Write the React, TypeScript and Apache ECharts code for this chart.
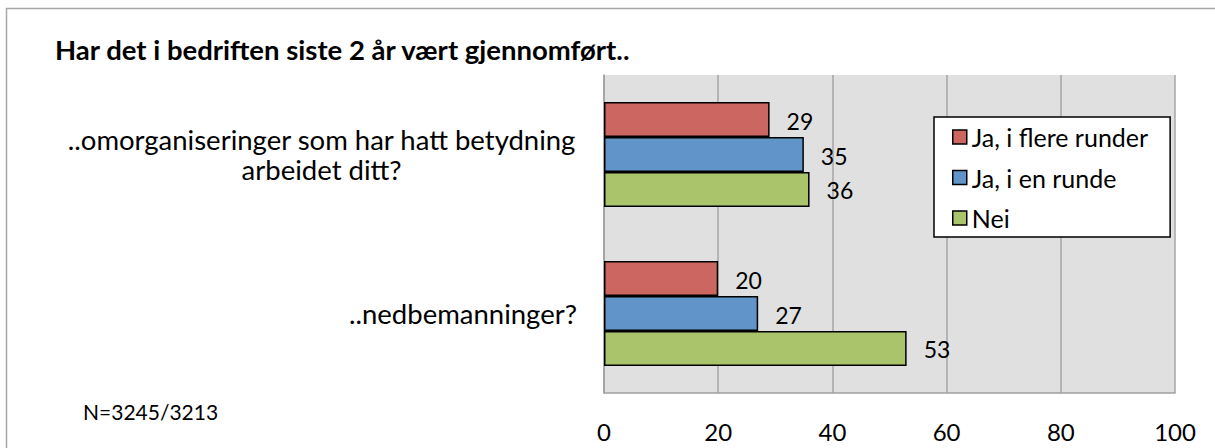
import React, { useEffect, useRef } from "react";
import * as echarts from "echarts";

const categories = [
  "..omorganiseringer som har hatt betydning\narbeidet ditt?",
  "..nedbemanninger?",
];
const seriesNames = ["Ja, i flere runder", "Ja, i en runde", "Nei"];
const flereRunder = [29, 20];
const enRunde = [35, 27];
const nei = [36, 53];
const xTicks = [0, 20, 40, 60, 80, 100];
const titleText = "Har det i bedriften siste 2 år vært gjennomført..";
const noteText = "N=3245/3213";

const FONT = "Lato";
const colors = ["#CC6660", "#6195C9", "#AAC46C"];

function measure(text: string, size: number): number {
  const c = document.createElement("canvas").getContext("2d");
  if (!c) return text.length * size * 0.5;
  c.font = `${size}px ${FONT}`;
  return c.measureText(text).width;
}

export default function App() {
  const ref = useRef<HTMLDivElement>(null);
  useEffect(() => {
    if (!ref.current) return;
    const chart = echarts.init(ref.current, undefined, { renderer: "svg" });
    const catSize = 27.5;
    const lines = categories[0].split("\n");
    const blockW = Math.max(...lines.map((l) => measure(l, catSize))) + 2;
    const values = [flereRunder, enRunde, nei];
    chart.setOption({
      animation: false,
      backgroundColor: "#ffffff",
      textStyle: { fontFamily: FONT, color: "#000" },
      title: {
        text: titleText,
        left: 50,
        top: 30,
        textStyle: { fontFamily: FONT, fontWeight: "bold", fontSize: 27.5, color: "#000" },
      },
      graphic: [
        {
          type: "rect",
          shape: { x: 6.5, y: 8.5, width: 1400, height: 800 },
          style: { fill: "none", stroke: "#a6a6a6", lineWidth: 1.5 },
          silent: true,
          z: -1,
        },
        {
          type: "text",
          left: 83,
          top: 401,
          style: { text: noteText, font: `21px ${FONT}`, fill: "#000" },
        },
      ],
      legend: {
        orient: "vertical",
        left: 934,
        top: 117,
        data: seriesNames,
        backgroundColor: "#fff",
        borderColor: "#000",
        borderWidth: 1.5,
        padding: [7, 22, 6, 18],
        itemWidth: 14,
        itemHeight: 14,
        itemGap: 14.5,
        icon: "rect",
        textStyle: { fontFamily: FONT, fontSize: 25, color: "#000", padding: [0, 0, 0, 0], lineHeight: 26 },
        itemStyle: { borderColor: "#000", borderWidth: 1.5 },
      },
      grid: {
        left: 604,
        right: 40,
        top: 75,
        bottom: 55,
        show: true,
        backgroundColor: "#e0e0e0",
        borderWidth: 0,
        containLabel: false,
      },
      xAxis: {
        type: "value",
        min: xTicks[0],
        max: xTicks[xTicks.length - 1],
        interval: 20,
        axisLine: { show: true, lineStyle: { color: "#a0a0a0", width: 1.5 } },
        axisTick: { show: false },
        splitLine: { show: true, lineStyle: { color: "#a6a6a6", width: 1.5 } },
        axisLabel: { fontFamily: FONT, fontSize: 24, color: "#000", margin: 26 },
      },
      yAxis: {
        type: "category",
        inverse: true,
        data: categories,
        axisLine: { show: true, lineStyle: { color: "#a0a0a0", width: 1.5 } },
        axisTick: { show: false },
        axisLabel: {
          margin: 27,
          formatter: (v: string) =>
            v.includes("\n")
              ? v
                  .split("\n")
                  .map((l) => `{c|${l}}`)
                  .join("\n")
              : `{n|${v}}`,
          rich: {
            c: { width: blockW, align: "center", fontFamily: FONT, fontSize: catSize, lineHeight: 30, color: "#000" },
            n: { fontFamily: FONT, fontSize: catSize, lineHeight: 30, color: "#000" },
          },
        },
      },
      series: seriesNames.map((name, i) => ({
        name,
        type: "bar",
        data: values[i],
        barGap: "0%",
        barCategoryGap: "34%",
        itemStyle: { color: colors[i], borderColor: "#000", borderWidth: 1.5 },
        label: {
          show: true,
          position: "right",
          distance: 17,
          offset: [0, 1],
          fontFamily: FONT,
          fontSize: 23,
          color: "#000",
        },
      })),
    });
    return () => chart.dispose();
  }, []);
  return (
    <div
      ref={ref}
      style={{ position: "fixed", left: 0, top: 0, width: 1215, height: 448 }}
    />
  );
}
